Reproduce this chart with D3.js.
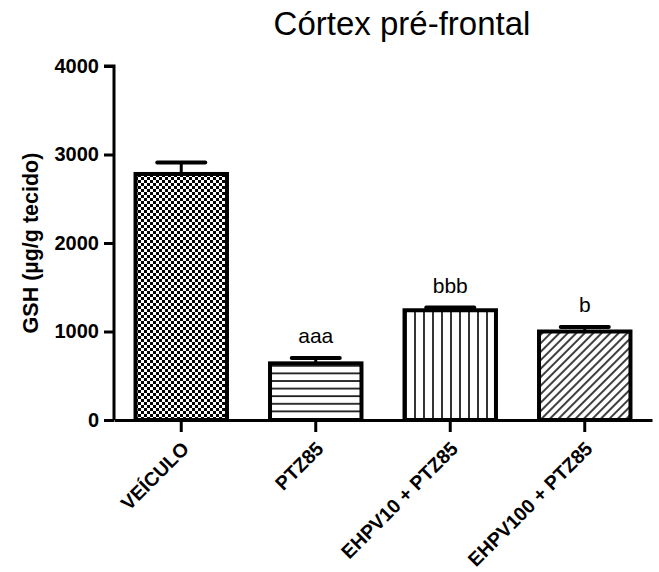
<!DOCTYPE html>
<html>
<head>
<meta charset="utf-8">
<script src="https://cdn.jsdelivr.net/npm/d3@7"></script>
<style>
  html, body { margin: 0; padding: 0; background: #fff; }
  svg { display: block; }
  text { font-family: "Liberation Sans", Arial, sans-serif; fill: #000; }
</style>
</head>
<body>
<script>
// GSH in prefrontal cortex, mean ± SEM per treatment group
const categories = ["VEÍCULO", "PTZ85", "EHPV10 + PTZ85", "EHPV100 + PTZ85"];
const means = [2780, 640, 1240, 1000];
const sems = [130, 60, 30, 50];
const significance = ["", "aaa", "bbb", "b"];
const patterns = ["checker", "hlines", "vlines", "diag"];
const yTicks = [0, 1000, 2000, 3000, 4000];

const width = 659, height = 572;
const margin = { top: 66, right: 7, bottom: 152, left: 114 };

const svg = d3.select("body").append("svg")
  .attr("width", width).attr("height", height);

const defs = svg.append("defs");
// checkerboard fill
const pc = defs.append("pattern").attr("id", "checker")
  .attr("patternUnits", "userSpaceOnUse").attr("width", 6).attr("height", 6);
pc.append("rect").attr("width", 6).attr("height", 6).attr("fill", "#fff");
pc.append("rect").attr("width", 3).attr("height", 3).attr("fill", "#000");
pc.append("rect").attr("x", 3).attr("y", 3).attr("width", 3).attr("height", 3).attr("fill", "#000");
// horizontal lines
const ph = defs.append("pattern").attr("id", "hlines")
  .attr("patternUnits", "userSpaceOnUse").attr("width", 8).attr("height", 7.6);
ph.append("rect").attr("width", 8).attr("height", 7.6).attr("fill", "#fff");
ph.append("line").attr("x1", 0).attr("x2", 8).attr("y1", 1).attr("y2", 1)
  .attr("stroke", "#000").attr("stroke-width", 1.6);
// vertical lines
const pv = defs.append("pattern").attr("id", "vlines")
  .attr("patternUnits", "userSpaceOnUse").attr("width", 9).attr("height", 8);
pv.append("rect").attr("width", 9).attr("height", 8).attr("fill", "#fff");
pv.append("line").attr("y1", 0).attr("y2", 8).attr("x1", 1).attr("x2", 1)
  .attr("stroke", "#000").attr("stroke-width", 1.6);
// diagonal lines
const pd = defs.append("pattern").attr("id", "diag")
  .attr("patternUnits", "userSpaceOnUse").attr("width", 6).attr("height", 6)
  .attr("patternTransform", "rotate(45)");
pd.append("rect").attr("width", 6).attr("height", 6).attr("fill", "#fff");
pd.append("line").attr("x1", 1).attr("x2", 1).attr("y1", 0).attr("y2", 6)
  .attr("stroke", "#000").attr("stroke-width", 1.5);

const x = d3.scaleBand().domain(categories)
  .range([margin.left, width - margin.right]).paddingInner(0.32).paddingOuter(0.16);
const y = d3.scaleLinear().domain([0, 4000]).range([height - margin.bottom, margin.top]);

// bars
const g = svg.append("g");
categories.forEach((c, i) => {
  const bx = x(c), bw = x.bandwidth();
  const cx = bx + bw / 2;
  // error bar (upper only)
  g.append("line").attr("x1", cx).attr("x2", cx)
    .attr("y1", y(means[i])).attr("y2", y(means[i] + sems[i]))
    .attr("stroke", "#000").attr("stroke-width", 3);
  g.append("line").attr("x1", cx - 24).attr("x2", cx + 24)
    .attr("y1", y(means[i] + sems[i])).attr("y2", y(means[i] + sems[i]))
    .attr("stroke", "#000").attr("stroke-width", 4).attr("stroke-linecap", "round");
  g.append("rect").attr("x", bx).attr("y", y(means[i]))
    .attr("width", bw).attr("height", y(0) - y(means[i]))
    .attr("fill", `url(#${patterns[i]})`)
    .attr("stroke", "#000").attr("stroke-width", 4);
  if (significance[i]) {
    g.append("text").attr("x", cx).attr("y", y(means[i] + sems[i]) - 15)
      .attr("text-anchor", "middle").attr("font-size", 21)
      .text(significance[i]);
  }
});

// y axis
const yAxis = svg.append("g").attr("transform", `translate(${margin.left},0)`)
  .call(d3.axisLeft(y).tickValues(yTicks).tickFormat(d3.format("d")).tickSize(10).tickPadding(5));
yAxis.select(".domain").attr("stroke-width", 3).attr("d", `M-10,${y(4000)}H0V${y(0)}`);
yAxis.selectAll(".tick line").attr("stroke-width", 3);
yAxis.selectAll(".tick text").attr("font-size", 20).attr("font-weight", "bold")
  .attr("font-family", "'Liberation Sans', Arial, sans-serif");

// x axis
const xAxis = svg.append("g").attr("transform", `translate(0,${y(0)})`)
  .call(d3.axisBottom(x).tickSize(12).tickSizeOuter(0));
xAxis.select(".domain").attr("stroke-width", 3);
xAxis.selectAll(".tick line").attr("stroke-width", 3);
xAxis.selectAll(".tick text")
  .attr("font-size", 19.5).attr("font-weight", "bold")
  .attr("font-family", "'Liberation Sans', Arial, sans-serif")
  .attr("text-anchor", "end")
  .attr("dy", 0).attr("y", 0)
  .attr("transform", "translate(9,30) rotate(-45)");

// axis title
svg.append("text")
  .attr("transform", `translate(38,${(y(0) + y(4000)) / 2}) rotate(-90)`)
  .attr("text-anchor", "middle").attr("font-size", 21.5).attr("font-weight", "bold")
  .text("GSH (µg/g tecido)");

// chart title
svg.append("text").attr("x", 402).attr("y", 35)
  .attr("text-anchor", "middle").attr("font-size", 33)
  .text("Córtex pré-frontal");
</script>
</body>
</html>
